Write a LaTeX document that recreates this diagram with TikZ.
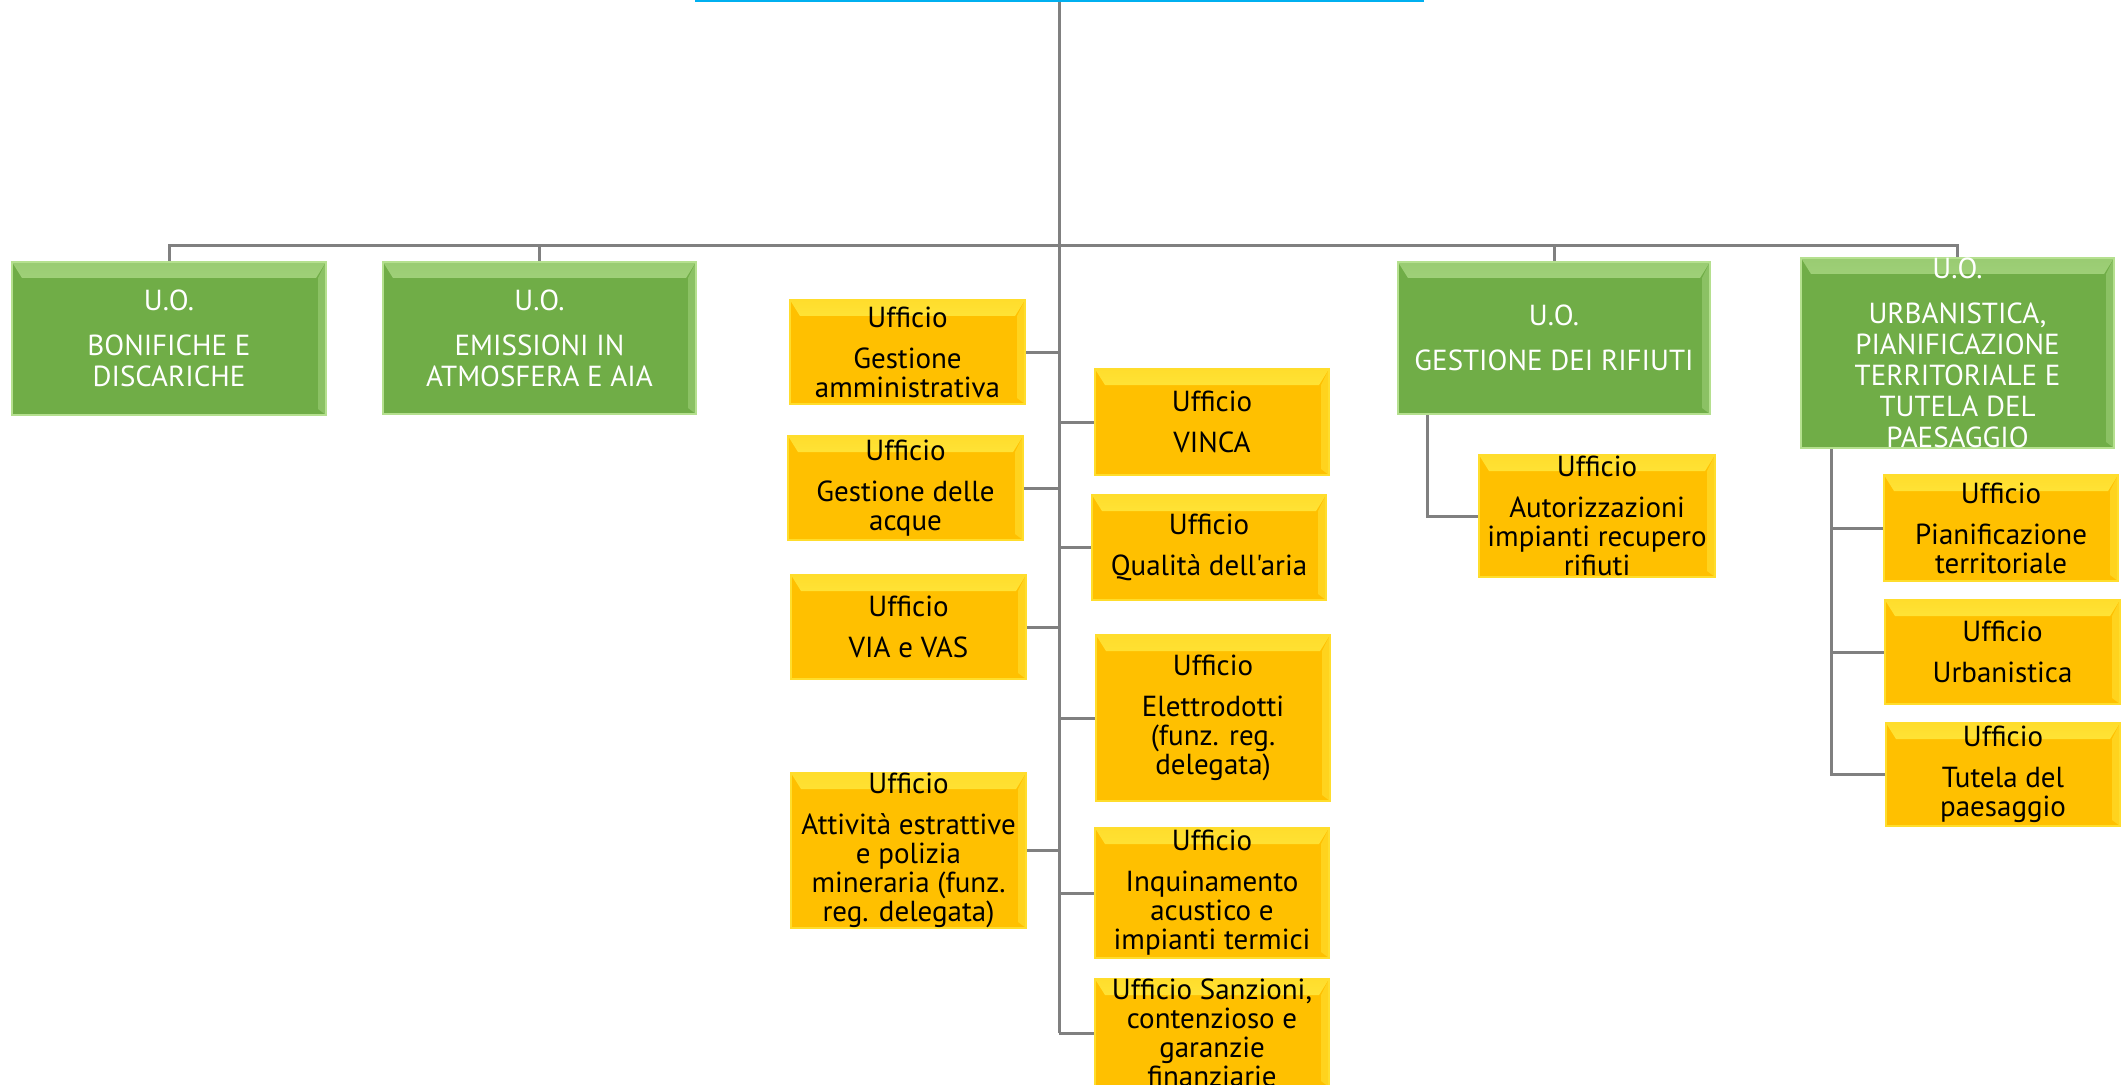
\documentclass[tikz,border=0pt]{standalone}
\usepackage{fontspec}
\newfontfamily\boxfont{PT Sans}
\usetikzlibrary{calc,backgrounds}
\definecolor{uogreen}{HTML}{70AD47}
\definecolor{uolight}{HTML}{B5E08F}
\definecolor{offyellow}{HTML}{FFC000}
\definecolor{offlight}{HTML}{FFF04A}
\definecolor{linkgray}{HTML}{808080}
\definecolor{topcyan}{HTML}{00B0F0}
\tikzset{
  bevel/.style 2 args={path picture={
    \fill[top color=#2!40!#1,bottom color=#2,middle color=#1] (path picture bounding box.north west) -- (path picture bounding box.north east)
      -- ([shift={(-5pt,-8pt)}]path picture bounding box.north east) -- ([shift={(5pt,-8pt)}]path picture bounding box.north west) -- cycle;
    \fill[#1!40!#2] (path picture bounding box.north east) -- ([shift={(-4pt,-8pt)}]path picture bounding box.north east)
      -- ([shift={(-4pt,3pt)}]path picture bounding box.south east) -- (path picture bounding box.south east) -- cycle;
  }},
  boxsize/.style 2 args={minimum width=#1*0.5pt,minimum height=#2*0.5pt},
  unit/.style={fill=uogreen,draw=uolight,line width=0.6pt,bevel={uolight}{uogreen},text=white,align=center,
    inner sep=0pt,font=\boxfont\fontsize{14.5pt}{15.5pt}\selectfont},
  office/.style={fill=offyellow,draw=offlight!60!offyellow,line width=0.6pt,bevel={offlight}{offyellow},text=black,align=center,
    inner sep=0pt,font=\boxfont\fontsize{14.5pt}{14.5pt}\selectfont},
  link/.style={draw=linkgray,line width=1.5pt}
}

\begin{document}
\begin{tikzpicture}[x=0.5pt,y=-0.5pt]
  \useasboundingbox (0,0) rectangle (2128,1085);
  \clip (0,0) rectangle (2128,1085);
  \coordinate (top) at (1059,0);
  \coordinate (bus) at (1059,246);
  \draw[topcyan,line width=2pt] (695,0) -- (1424,0);

  % unita operative
  \node[unit,boxsize={314}{153}] (bon) at (169,338.5) {U.O.\\[7pt]BONIFICHE E\\DISCARICHE};
  \node[unit,boxsize={313}{152}] (emi) at (539.5,338) {U.O.\\[7pt]EMISSIONI IN\\ATMOSFERA E AIA};
  \node[unit,boxsize={312}{152}] (rif) at (1554,338) {U.O.\\[7pt]GESTIONE DEI RIFIUTI};
  \node[unit,boxsize={313}{190}] (urb) at (1957.5,353) {U.O.\\[7pt]URBANISTICA,\\PIANIFICAZIONE\\TERRITORIALE E\\TUTELA DEL\\PAESAGGIO};

  % uffici di staff
  \node[office,boxsize={235}{104}] (ga) at (907.5,352) {Ufficio\\[6pt]Gestione\\amministrativa};
  \node[office,boxsize={235}{104}] (gda) at (905.5,488) {Ufficio\\[6pt]Gestione delle\\acque};
  \node[office,boxsize={235}{104}] (via) at (908.5,627) {Ufficio\\[6pt]VIA e VAS};
  \node[office,boxsize={235}{153}] (att) at (908.5,850.5) {Ufficio\\[6pt]Attività estrattive\\e polizia\\mineraria (funz.\\reg. delegata)};
  \node[office,boxsize={234}{106}] (vinca) at (1212,422) {Ufficio\\[6pt]VINCA};
  \node[office,boxsize={234}{105}] (qual) at (1209,547.5) {Ufficio\\[6pt]Qualità dell'aria};
  \node[office,boxsize={234}{166}] (elet) at (1213,718) {Ufficio\\[6pt]Elettrodotti\\(funz. reg.\\delegata)};
  \node[office,boxsize={234}{130}] (inq) at (1212,893) {Ufficio\\[6pt]Inquinamento\\acustico e\\impianti termici};
  \node[office,boxsize={234}{106}] (sanz) at (1212,1033) {Ufficio Sanzioni,\\contenzioso e\\garanzie\\finanziarie};

  % uffici delle unita
  \node[office,boxsize={236}{122}] (aut) at (1597,516) {Ufficio\\[6pt]Autorizzazioni\\impianti recupero\\rifiuti};
  \node[office,boxsize={234}{106}] (pian) at (2001,528) {Ufficio\\[6pt]Pianificazione\\territoriale};
  \node[office,boxsize={235}{104}] (urba) at (2002.5,652) {Ufficio\\[6pt]Urbanistica};
  \node[office,boxsize={234}{103}] (tut) at (2003,774.5) {Ufficio\\[6pt]Tutela del\\paesaggio};

  \begin{scope}[on background layer]
    \draw[link] (top) -- (sanz.west -| top);
    \draw[link] (bon.north) |- (bus) -| (urb.north);
    \draw[link] (emi.north) -- (emi.north |- bus);
    \draw[link] (rif.north) -- (rif.north |- bus);
    \foreach \n in {ga,gda,via,att}
      \draw[link] (\n.east) -- (\n.east -| top);
    \foreach \n in {vinca,qual,elet,inq,sanz}
      \draw[link] (\n.west) -- (\n.west -| top);
    \draw[link] ([xshift=15pt]rif.south west) |- (aut.west);
    \foreach \n in {pian,urba,tut}
      \draw[link] ([xshift=15.5pt]urb.south west) |- (\n.west);
  \end{scope}
\end{tikzpicture}
\end{document}
